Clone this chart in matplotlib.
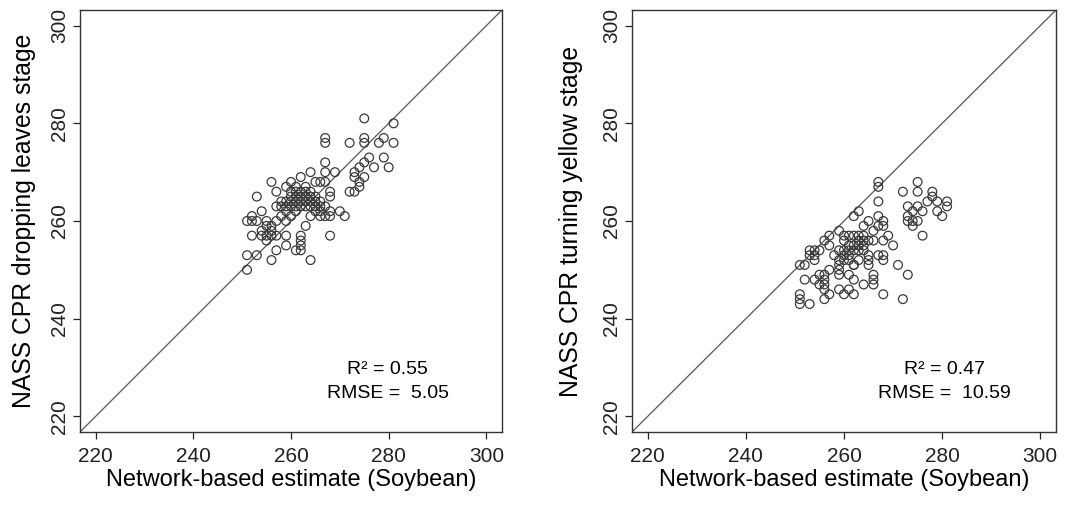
import matplotlib
matplotlib.use("Agg")
import matplotlib.pyplot as plt

plt.rcParams['font.family'] = ['Liberation Sans', 'DejaVu Sans']

# ---- data (day of year) ----
left_x = [275, 281, 267, 267, 275, 275, 272, 278, 279, 281, 267, 276, 279, 280, 277, 274, 275, 273, 269, 267,
          264, 275, 273, 262, 256, 260, 265, 266, 267, 274, 274, 272, 273, 259, 261, 257, 263, 268, 253, 268,
          258, 260, 262, 263, 264, 265, 264, 265, 266, 258, 259, 260, 261, 262, 265, 266, 267, 257, 270, 268,
          266, 265, 259, 254, 252, 251, 252, 253, 255, 257, 259, 271, 266, 267, 268, 264, 260, 254, 256, 255,
          252, 254, 256, 257, 259, 263, 262, 262, 262, 262, 261, 268, 259, 257, 255, 251, 253, 256, 264, 251,
          261, 261, 261, 262, 263, 260, 259, 263, 264, 262, 263, 264, 256, 255, 258, 260, 261]
left_y = [281, 280, 277, 276, 277, 276, 276, 276, 277, 276, 272, 273, 273, 271, 271, 271, 272, 270, 270, 270,
          270, 269, 269, 269, 268, 268, 268, 268, 268, 268, 267, 266, 266, 267, 267, 266, 266, 266, 265, 265,
          264, 265, 265, 265, 265, 265, 264, 264, 264, 263, 263, 263, 263, 263, 263, 263, 263, 263, 262, 262,
          262, 262, 262, 262, 261, 260, 260, 260, 260, 260, 260, 261, 261, 261, 261, 261, 261, 258, 258, 257,
          257, 257, 257, 257, 257, 259, 257, 256, 255, 254, 254, 257, 255, 254, 256, 253, 253, 252, 252, 250,
          264, 265, 266, 264, 264, 264, 264, 267, 266, 266, 263, 263, 259, 259, 261, 266, 262]

right_x = [267, 267, 275, 272, 275, 278, 278, 277, 279, 281, 281, 267, 273, 275, 276, 279, 280, 274, 273, 274,
           273, 275, 274, 276, 263, 262, 267, 265, 268, 267, 268, 264, 266, 259, 257, 256, 260, 261, 262, 263,
           264, 265, 266, 264, 269, 268, 270, 257, 259, 253, 254, 255, 253, 254, 254, 258, 260, 260, 260, 261,
           262, 263, 261, 262, 263, 264, 261, 263, 262, 261, 265, 265, 265, 267, 268, 268, 251, 252, 271, 262,
           259, 259, 259, 257, 256, 255, 252, 254, 256, 256, 255, 256, 261, 262, 266, 266, 266, 264, 273, 259,
           261, 257, 260, 262, 268, 256, 272, 251, 251, 251, 253, 260, 259, 264, 263]
right_y = [268, 267, 268, 266, 266, 266, 265, 264, 264, 264, 263, 264, 263, 263, 262, 262, 261, 262, 260, 260,
           261, 260, 259, 257, 262, 261, 261, 260, 260, 259, 259, 259, 258, 258, 257, 256, 257, 257, 257, 257,
           257, 256, 256, 256, 257, 256, 255, 255, 254, 254, 254, 254, 253, 253, 252, 253, 254, 253, 252, 255,
           255, 255, 254, 254, 254, 254, 253, 252, 251, 252, 253, 252, 251, 253, 253, 252, 251, 251, 251, 251,
           251, 250, 249, 250, 249, 249, 248, 248, 248, 247, 247, 246, 249, 248, 249, 248, 247, 247, 249, 246,
           246, 245, 245, 245, 245, 244, 244, 245, 244, 243, 243, 256, 252, 255, 256]

panels = [
    dict(x=left_x, y=left_y, ylabel="NASS CPR dropping leaves stage",
         r2="0.55", rmse="5.05", tx=279.8, rect=[80/1070, 75/507, 422/1070, 422/507], ylab_x=-0.104),
    dict(x=right_x, y=right_y, ylabel="NASS CPR turning yellow stage",
         r2="0.47", rmse="10.59", tx=280.5, rect=[632/1070, 75/507, 424/1070, 422/507], ylab_x=-0.115),
]

ticks = [220, 240, 260, 280, 300]
lo, hi = 220 - 0.04 * 80, 300 + 0.04 * 80

fig = plt.figure(figsize=(10.7, 5.07), dpi=100)
for p in panels:
    ax = fig.add_axes(p["rect"])
    ax.plot([lo, hi], [lo, hi], color="#555555", lw=0.9, zorder=1)
    ax.scatter(p["x"], p["y"], s=40, facecolors="none", edgecolors="#3a3a3a", linewidths=0.9, zorder=2)
    ax.set_xlim(lo, hi)
    ax.set_ylim(lo, hi)
    ax.set_xticks(ticks)
    ax.set_yticks(ticks)
    ax.tick_params(axis="both", direction="out", length=5, width=0.9, colors="#222222", labelsize=15)
    ax.tick_params(axis="x", pad=6)
    ax.tick_params(axis="y", pad=3)
    for lab in ax.get_yticklabels():
        lab.set_rotation(90)
        lab.set_va("center")
    for s in ax.spines.values():
        s.set_color("#333333")
        s.set_linewidth(1.0)
    ax.set_xlabel("Network-based estimate (Soybean)", fontsize=17, labelpad=2)
    ax.set_ylabel(p["ylabel"], fontsize=17.8)
    ax.yaxis.set_label_coords(p["ylab_x"], 0.5)
    ax.text(p["tx"], 229.5, "R\u00b2 = " + p["r2"], fontsize=14, ha="center", va="center")
    ax.text(p["tx"], 224.7, "RMSE =  " + p["rmse"], fontsize=14, ha="center", va="center")

fig.savefig("out.png", dpi=100, facecolor="white")
